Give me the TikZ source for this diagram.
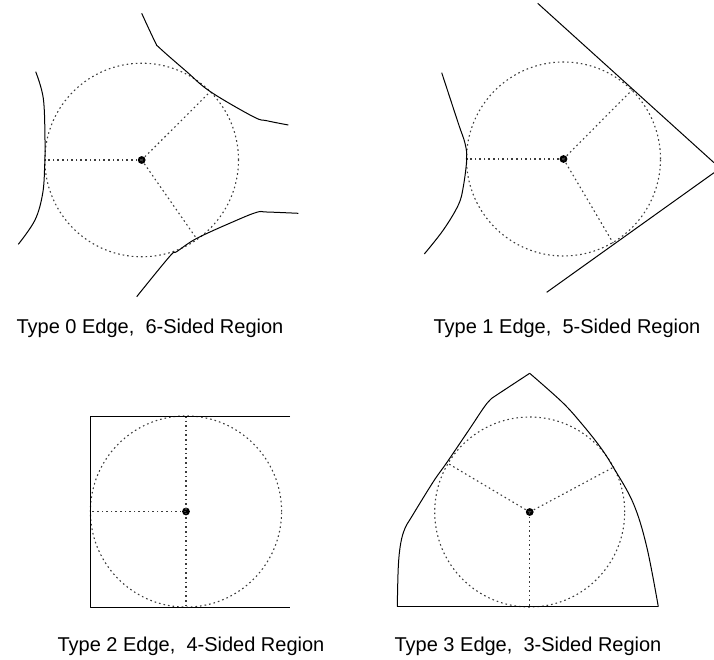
\documentclass[tikz,border=0pt]{standalone}
\usepackage{fontspec}
\setmainfont{Liberation Sans}
\usepackage{tikz}
\definecolor{vd@dot}{RGB}{60,60,60}

\begin{document}
\begin{tikzpicture}[x=1pt,y=-1pt,
  bound/.style={black,line width=1pt,line join=round},
  incirc/.style={vd@dot,line width=1.1pt,dash pattern=on 1.6pt off 3pt},
  rad/.style={incirc},
  ctr/.style={circle,fill=black,inner sep=0pt,minimum size=7.8pt},
  caption/.style={anchor=base,inner sep=0pt,font=\fontsize{20}{23}\selectfont}
]
\useasboundingbox (0,0) rectangle (714,660);

% type 0
\node[ctr] (c0) at (141.7,160) {};
\coordinate (t0l) at (45,160);
\coordinate (t0u) at (210.3,91.6);
\coordinate (t0d) at (196.5,238.5);
\draw[incirc] (c0.center) circle[radius=96.8pt];
\draw[rad] (c0.center) -- (t0l);
\draw[rad] (c0.center) -- (t0u);
\draw[rad] (c0.center) -- (t0d);
\draw[bound] plot[smooth,tension=0.6] coordinates {(35.7,71.7) (43.3,98.3) (45,140) (44.7,165) (42.7,193.3) (35,220) (18.3,244.3)};
\draw[bound] plot[smooth,tension=0.6] coordinates {(141.7,13.3) (155,41.7) (160,48.3) (186.7,71.7) (210.3,91.6) (253.3,116.7) (266.7,120.7) (288.3,125)};
\draw[bound] plot[smooth,tension=0.6] coordinates {(136.7,296.7) (170,256) (176.7,251.7) (196.5,238.5) (233.3,221.7) (256.7,212.3) (266.7,212) (298.3,213.3)};
\node[caption] (cap0) at (150,333) {Type 0 Edge,\ \ 6-Sided Region};

% type 1
\node[ctr] (c1) at (563.5,159) {};
\coordinate (t1l) at (466.7,159);
\coordinate (t1u) at (632.5,89.5);
\coordinate (t1d) at (613.3,243.3);
\coordinate (l1a) at (537.7,3.3);
\coordinate (l1b) at (714,162.7);
\coordinate (l1c) at (546.7,292.3);
\coordinate (l1d) at (714,172.7);
\draw[incirc] (c1.center) circle[radius=97pt];
\draw[rad] (c1.center) -- (t1l);
\draw[rad] (c1.center) -- (t1u);
\draw[rad] (c1.center) -- (t1d);
\draw[bound] plot[smooth,tension=0.6] coordinates {(441.7,72.7) (458.3,123.3) (465,143.3) (466.7,159) (463.3,186.7) (458.3,205) (443.3,230) (424.3,254)};
\draw[bound] (l1a) -- (l1b);
\draw[bound] (l1c) -- (l1d);
\node[caption] (cap1) at (567,333) {Type 1 Edge,\ \ 5-Sided Region};

% type 2
\node[ctr] (c2) at (186,511.5) {};
\coordinate (t2l) at (90,511.5);
\coordinate (t2u) at (186,416);
\coordinate (t2d) at (186,607);
\draw[incirc] (c2.center) circle[radius=95.6pt];
\draw[rad] (c2.center) -- (t2l);
\draw[rad] (t2u) -- (t2d);
\draw[bound] (290,416) -- (90,416) -- (90,607) -- (290,607);
\node[caption] (cap2) at (191,651.5) {Type 2 Edge,\ \ 4-Sided Region};

% type 3
\node[ctr] (c3) at (529.7,512) {};
\coordinate (t3l) at (446.7,462.7);
\coordinate (t3r) at (613.3,467.3);
\coordinate (t3d) at (529.7,606.7);
\coordinate (apex) at (529.7,373.3);
\draw[incirc] (c3.center) circle[radius=95pt];
\draw[rad] (c3.center) -- (t3l);
\draw[rad] (c3.center) -- (t3r);
\draw[rad] (c3.center) -- (t3d);
\draw[bound] plot[smooth,tension=0.6] coordinates {(apex) (496.7,395) (490,400) (483.3,408.3) (470,428.3) (446.7,462.7) (433.3,481.7) (411.7,516.7) (405,528.3) (400.7,543.3) (398.3,566.7) (397.3,606.7)};
\draw[bound] plot[smooth,tension=0.6] coordinates {(apex) (561.7,401.7) (580,421.7) (600,446.7) (613.3,467.3) (633.3,503.3) (646.7,546.7) (658.3,606.7)};
\draw[bound] (397.3,606.7) -- (658.3,606.7);
\node[caption] (cap3) at (528,651.5) {Type 3 Edge,\ \ 3-Sided Region};
\end{tikzpicture}
\end{document}
